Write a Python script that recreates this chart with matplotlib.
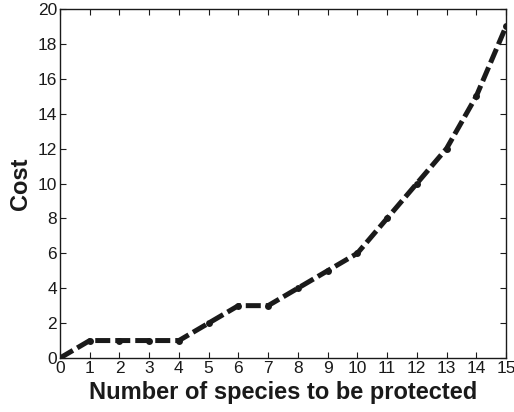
import matplotlib
matplotlib.use("Agg")
import matplotlib.pyplot as plt

# ── Data ───────────────────────────────────────────────────────────────────────
n_species = [0, 1, 2, 3, 4, 5, 6, 7, 8, 9, 10, 11, 12, 13, 14, 15]
cost = [0, 1, 1, 1, 1, 2, 3, 3, 4, 5, 6, 8, 10, 12, 15, 19]

plt.rcParams["font.family"] = ["Liberation Sans", "DejaVu Sans"]

fig = plt.figure(figsize=(5.14, 4.12), dpi=100)
ax = fig.add_axes([60 / 514, 54 / 412, 446 / 514, 349 / 412])

ax.plot(n_species, cost, color="#1a1a1a", linestyle=(0, (3.0, 1.0)), linewidth=3.6,
        marker="o", markersize=5, markerfacecolor="#1a1a1a", markeredgewidth=0)

ax.set_xlim(0, 15)
ax.set_ylim(0, 20)
ax.set_xticks(range(0, 16))
ax.set_yticks(range(0, 21, 2))
ax.tick_params(direction="in", top=True, right=True, length=4, width=0.8,
               labelsize=12.5, pad=2, colors="#1a1a1a")
for s in ax.spines.values():
    s.set_linewidth(1.0)
    s.set_color("#1a1a1a")

ax.set_xlabel("Number of species to be protected", fontsize=17, fontweight="bold",
              labelpad=4, color="#1a1a1a")
ax.set_ylabel("Cost", fontsize=17, fontweight="bold", labelpad=4, color="#1a1a1a")

fig.savefig("out.png", dpi=100)
